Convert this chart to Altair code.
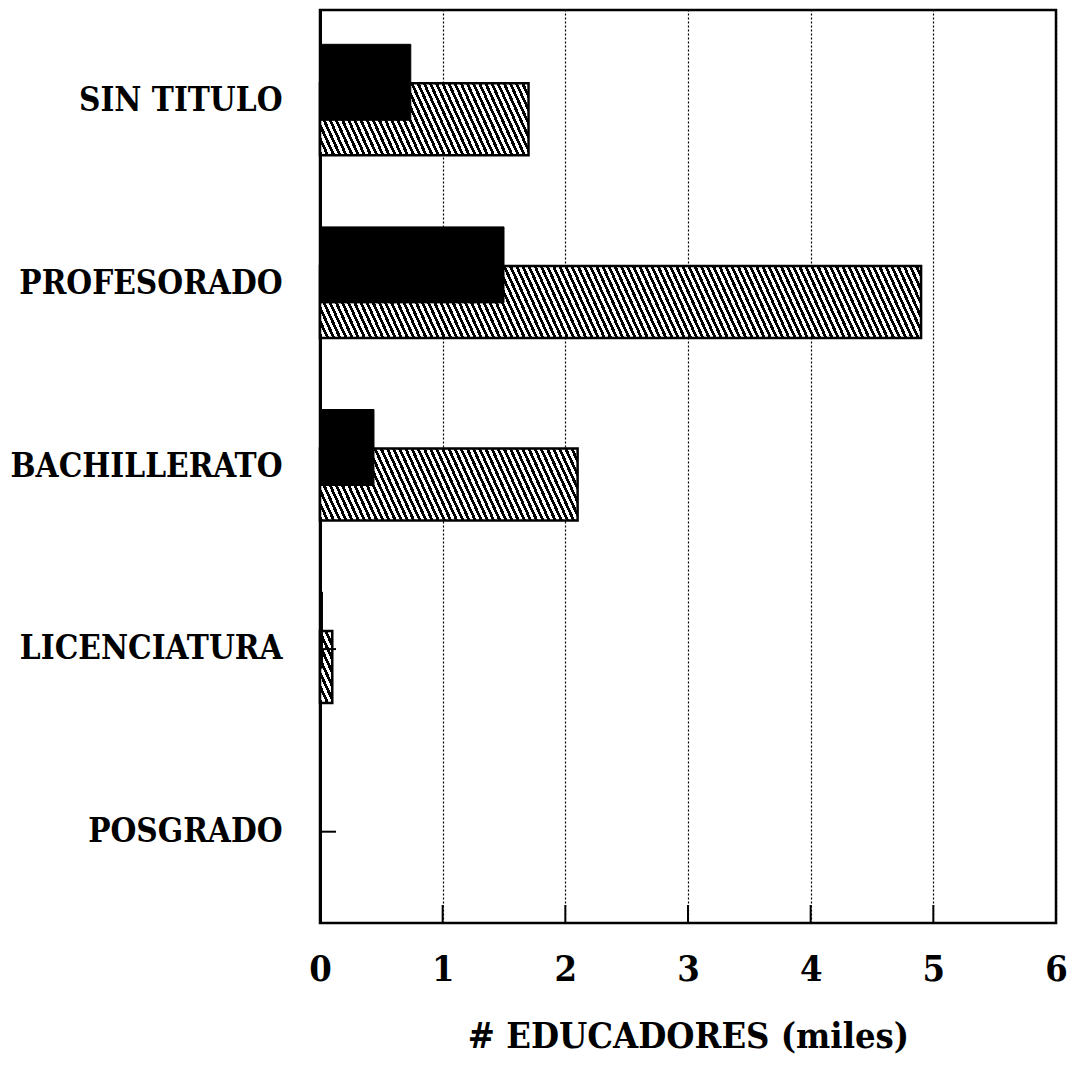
import math
import altair as alt
import pandas as pd

# ---- data ----
categories = ["SIN TITULO", "PROFESORADO", "BACHILLERATO", "LICENCIATURA", "POSGRADO"]
solid_values = [0.74, 1.50, 0.44, 0.02, 0.0]
hatched_values = [1.70, 4.90, 2.10, 0.10, 0.0]
x_ticks = [0, 1, 2, 3, 4, 5, 6]
x_title = "# EDUCADORES (miles)"

# ---- layout / style ----
W, H = 736, 913
XMAX = 6
FONT = "DejaVu Serif Condensed, DejaVu Serif, serif"
SOLID_H, SOLID_OFF = 76, -19
HATCH_H, HATCH_OFF = 72, 18

df = pd.DataFrame({"cat": categories, "solid": solid_values, "hatched": hatched_values})
ticks_df = pd.DataFrame({"t": x_ticks[1:-1]})


def hatch(value, bar_h, slope=2.2, period=5.6, ink=0.5):
    """Diagonal stripe fill built as a hard-stop linear gradient."""
    w = max(value * W / XMAX, 1e-3)
    k = (slope * w + bar_h) / (slope ** 2 * w ** 2 + bar_h ** 2)
    x2 = k * slope * w
    y2 = 1 - k * bar_h
    span = (slope * w + bar_h) / math.sqrt(1 + slope ** 2)
    n = max(span / period, 1)
    stops = []
    i = 0
    while i < n:
        a = min(i / n, 1)
        b = min((i + ink) / n, 1)
        c = min((i + 1) / n, 1)
        stops.append(alt.GradientStop(offset=a, color="black"))
        stops.append(alt.GradientStop(offset=b, color="black"))
        if b < 1:
            stops.append(alt.GradientStop(offset=b, color="white"))
            stops.append(alt.GradientStop(offset=c, color="white"))
        i += 1
    return alt.LinearGradient(gradient="linear", stops=stops, x1=0, y1=1, x2=x2, y2=y2)


y_axis = alt.Axis(
    title=None, labelFont=FONT, labelFontSize=33, labelFontWeight="bold",
    labelColor="black", labelPadding=38, ticks=False, domain=True,
    domainColor="black", domainWidth=3, labelLimit=500,
)
y_scale = alt.Scale(paddingInner=0, paddingOuter=0)
x_scale = alt.Scale(domain=[0, XMAX], nice=False, zero=True)
x_axis = alt.Axis(
    values=x_ticks, format="d", grid=True, gridDash=[2, 2], gridColor="black",
    gridOpacity=1, gridWidth=1.2, ticks=False, domain=False,
    labelFont=FONT, labelFontSize=36, labelFontWeight="bold", labelColor="black",
    labelPadding=29, labelFlush=False, labelOverlap=False,
    title=x_title, titleFont=FONT, titleFontSize=36, titleFontWeight="bold",
    titleColor="black", titlePadding=32,
)


def Y():
    return alt.Y("cat:N", sort=categories, scale=y_scale, axis=y_axis)


layers = []
for c, v in zip(categories, hatched_values):
    if v <= 0:
        continue
    layers.append(
        alt.Chart(df)
        .transform_filter(alt.datum.cat == c)
        .mark_bar(fill=hatch(v, HATCH_H), stroke="black", strokeWidth=2.5,
                  height=HATCH_H, yOffset=HATCH_OFF)
        .encode(x=alt.X("hatched:Q", scale=x_scale, axis=x_axis), y=Y())
    )

solid = (
    alt.Chart(df)
    .mark_bar(color="black", stroke="black", strokeWidth=1, height=SOLID_H, yOffset=SOLID_OFF)
    .encode(x=alt.X("solid:Q", scale=x_scale, axis=x_axis), y=Y())
)

y_ticks = (
    alt.Chart(df)
    .mark_rule(color="black", strokeWidth=2)
    .encode(y=Y(), x=alt.value(0), x2=alt.value(16))
)

x_tick_marks = (
    alt.Chart(ticks_df)
    .mark_rule(color="black", strokeWidth=2)
    .encode(x=alt.X("t:Q", scale=x_scale, axis=x_axis), y=alt.value(H - 18), y2=alt.value(H))
)

chart = (
    alt.layer(*layers, solid, y_ticks, x_tick_marks)
    .properties(
        width=W, height=H,
        autosize=alt.AutoSizeParams(type="none"),
        padding={"left": 312, "top": 2, "right": 13, "bottom": 136},
        background="white",
    )
    .configure_view(stroke="black", strokeWidth=2.5)
)

chart.save("out.html", embed_options={"renderer": "svg", "actions": False})
